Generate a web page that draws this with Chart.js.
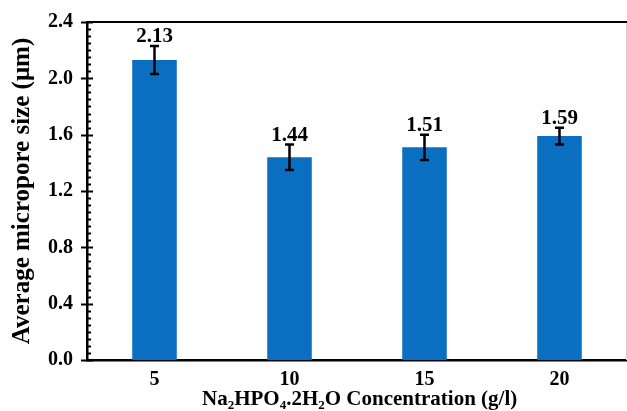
<!DOCTYPE html>
<html>
<head>
<meta charset="UTF-8">
<title>Average micropore size</title>
<script src="https://cdn.jsdelivr.net/npm/chart.js@4"></script>
<style>
html, body { margin: 0; padding: 0; background: #fff; }
#wrap { width: 627px; height: 411px; }
</style>
</head>
<body>
<div id="wrap"><canvas id="chart"></canvas></div>
<script>
// Data
const categories  = ['5', '10', '15', '20'];
const poreSize    = [2.13, 1.44, 1.51, 1.59];
const poreError   = [0.10, 0.09, 0.09, 0.06];
const valueLabels = ['2.13', '1.44', '1.51', '1.59'];

const FONT = '"Liberation Serif", "Times New Roman", serif';

// Error bars, value labels, minor ticks, frame and titles
const decorations = {
    id: 'decorations',
    afterDatasetsDraw(chart) {
        const {ctx, chartArea, scales} = chart;
        const y    = scales.y;
        const meta = chart.getDatasetMeta(0);

        ctx.save();
        // faint right edge
        ctx.strokeStyle = '#d0d0d0';
        ctx.lineWidth   = 1;
        ctx.beginPath();
        ctx.moveTo(chartArea.right - 0.5, chartArea.top);
        ctx.lineTo(chartArea.right - 0.5, chartArea.bottom);
        ctx.stroke();

        // top frame line
        ctx.strokeStyle = '#000';
        ctx.lineWidth   = 2;
        ctx.beginPath();
        ctx.moveTo(chartArea.left, chartArea.top);
        ctx.lineTo(chartArea.right, chartArea.top);
        ctx.stroke();

        // y ticks: major cross the axis, minor inside
        ctx.lineWidth = 2;
        for (let v = 0; v <= 2.4001; v += 0.05)
        {
            const py      = Math.round(y.getPixelForValue(v)) + 0.5;
            const isMajor = Math.abs(v / 0.4 - Math.round(v / 0.4)) < 1e-6;
            ctx.beginPath();
            if (isMajor)
            {
                ctx.moveTo(chartArea.left - 6, py);
                ctx.lineTo(chartArea.left + 6, py);
            }
            else
            {
                ctx.moveTo(chartArea.left, py);
                ctx.lineTo(chartArea.left + 4, py);
            }
            ctx.stroke();
        }

        // error bars and labels
        ctx.lineWidth = 2.5;
        meta.data.forEach((bar, i) => {
            const top = y.getPixelForValue(poreSize[i] + poreError[i]);
            const bot = y.getPixelForValue(poreSize[i] - poreError[i]);
            ctx.beginPath();
            ctx.moveTo(bar.x, top);
            ctx.lineTo(bar.x, bot);
            ctx.moveTo(bar.x - 4.5, top);
            ctx.lineTo(bar.x + 4.5, top);
            ctx.moveTo(bar.x - 4.5, bot);
            ctx.lineTo(bar.x + 4.5, bot);
            ctx.stroke();

            ctx.fillStyle    = '#000';
            ctx.font         = 'bold 21px ' + FONT;
            ctx.textAlign    = 'center';
            ctx.textBaseline = 'alphabetic';
            ctx.fillText(valueLabels[i], bar.x, top - 4);
        });

        // y title
        ctx.save();
        ctx.translate(29, (chartArea.top + chartArea.bottom) / 2);
        ctx.rotate(-Math.PI / 2);
        ctx.font         = 'bold 25px ' + FONT;
        ctx.textAlign    = 'center';
        ctx.textBaseline = 'alphabetic';
        ctx.fillText('Average micropore size (μm)', 0, 0);
        ctx.restore();

        // x title with subscripts
        const parts = [
            ['Na', false], ['2', true], ['HPO', false], ['4', true], ['.2H', false],
            ['2', true], ['O Concentration (g/l)', false]
        ];
        const bigFont   = 'bold 21px ' + FONT;
        const smallFont = 'bold 13px ' + FONT;
        let px = 202;
        const baseY = 405;
        ctx.textAlign    = 'left';
        ctx.textBaseline = 'alphabetic';
        parts.forEach(([t, sub]) => {
            ctx.font = sub ? smallFont : bigFont;
            ctx.fillText(t, px, sub ? baseY + 4 : baseY);
            px += ctx.measureText(t).width;
        });
        ctx.restore();
    }
};

new Chart(document.getElementById('chart'), {
    type: 'bar',
    data: {
        labels: categories,
        datasets: [{
            data: poreSize,
            backgroundColor: '#0B6FC1',
            barPercentage: 0.33,
            categoryPercentage: 1.0
        }]
    },
    options: {
        responsive: true,
        maintainAspectRatio: false,
        animation: false,
        layout: {padding: {top: 22, right: 0, left: 0, bottom: 0}},
        plugins: {legend: {display: false}, tooltip: {enabled: false}},
        scales: {
            x: {
                grid: {display: false, drawTicks: false},
                border: {display: true, color: '#000', width: 2.5},
                ticks: {color: '#000', padding: 8, font: {family: FONT, size: 20, weight: 'bold'}},
                afterFit: (s) => {
                    s.height       = 51;
                    s.paddingLeft  = 0;
                    s.paddingRight = 0;
                }
            },
            y: {
                min: 0,
                max: 2.4,
                grid: {display: false, drawTicks: false},
                border: {display: true, color: '#000', width: 2.5},
                ticks: {
                    stepSize: 0.4,
                    color: '#000',
                    padding: 14,
                    font: {family: FONT, size: 20, weight: 'bold'},
                    callback: (v) => Number(v).toFixed(1)
                },
                afterFit: (s) => {
                    s.width         = 87;
                    s.paddingTop    = 0;
                    s.paddingBottom = 0;
                }
            }
        }
    },
    plugins: [decorations]
});
</script>
</body>
</html>
